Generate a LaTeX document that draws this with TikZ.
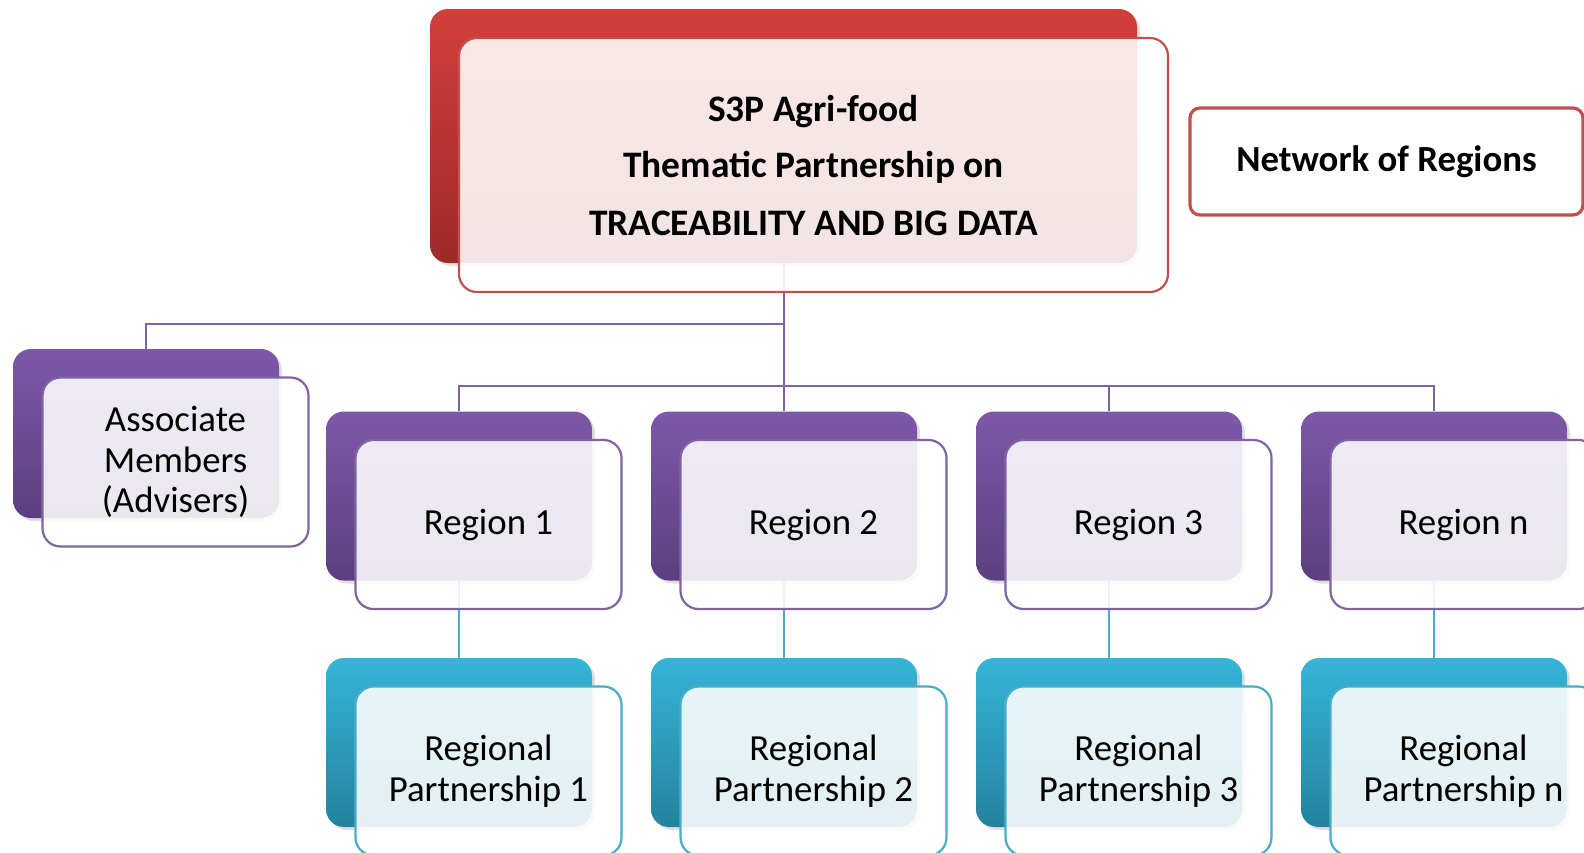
\documentclass[tikz,border=0pt]{standalone}
\usepackage{fontspec}
\setmainfont{Carlito}
\usetikzlibrary{backgrounds,shadows}
\definecolor{redTop}{HTML}{D33F3B}
\definecolor{redBot}{HTML}{9E2A29}
\definecolor{redLine}{HTML}{C0504D}
\definecolor{purpTop}{HTML}{7E58A8}
\definecolor{purpBot}{HTML}{5C3F80}
\definecolor{purpLine}{HTML}{8064A2}
\definecolor{tealTop}{HTML}{36B4D7}
\definecolor{tealBot}{HTML}{23839E}
\definecolor{tealLine}{HTML}{4BACC6}

\begin{document}
\begin{tikzpicture}[x=0.5pt, y=-0.5pt,
			font=\fontsize{18.4}{20.2}\selectfont,
			backbox/.style  = {rectangle, rounded corners=9pt, minimum width=133pt, minimum height=84.5pt, drop shadow={shadow xshift=1.5pt, shadow yshift=-1.5pt, opacity=0.25}},
			frontbox/.style = {rectangle, rounded corners=9pt, minimum width=133pt, minimum height=84.5pt, fill=white, fill opacity=0.88, text opacity=1, line width=1.1pt, align=center},
			purple_b/.style = {backbox, top color=purpTop, bottom color=purpBot},
			teal_b/.style   = {backbox, top color=tealTop, bottom color=tealBot},
			purple_f/.style = {frontbox, draw=purpLine},
			teal_f/.style   = {frontbox, draw=tealLine},
			purple_l/.style = {purpLine, line width=1.3pt},
			teal_l/.style   = {tealLine, line width=1.3pt},]
			
			%% TOP BOX
			\node[backbox, top color=redTop, bottom color=redBot, minimum width=353.5pt, minimum height=127pt] (topb) at (783.5,136) {};
			\node[frontbox, draw=redLine, minimum width=354.5pt, minimum height=127pt, font=\bfseries\fontsize{18.7}{28.5}\selectfont] (topf) at ([shift={(30,29)}]topb) {S3P Agri-food\\Thematic Partnership on\\TRACEABILITY AND BIG DATA};
			\node[draw=redLine, line width=1.6pt, rounded corners=5pt, fill=white, minimum width=196.5pt, minimum height=53.5pt, font=\bfseries\fontsize{18.4}{20}\selectfont] (net) at (1386.5,161.5) {Network of Regions};
			
			%% ASSOCIATE MEMBERS
			\node[purple_b] (assb) at (146,433.5) {};
			\node[purple_f] (assf) at ([shift={(29.5,28.5)}]assb) {Associate\\Members\\(Advisers)};
			
			%% REGIONS
			\node[purple_b] (r1b) at (459,496) {};
			\node[purple_b] (r2b) at (784,496) {};
			\node[purple_b] (r3b) at (1109,496) {};
			\node[purple_b] (rnb) at (1434,496) {};
			\node[purple_f] (r1f) at ([shift={(29.5,28.5)}]r1b) {Region 1};
			\node[purple_f] (r2f) at ([shift={(29.5,28.5)}]r2b) {Region 2};
			\node[purple_f] (r3f) at ([shift={(29.5,28.5)}]r3b) {Region 3};
			\node[purple_f] (rnf) at ([shift={(29.5,28.5)}]rnb) {Region n};
			
			%% REGIONAL PARTNERSHIPS
			\node[teal_b] (p1b) at (459,742.5) {};
			\node[teal_b] (p2b) at (784,742.5) {};
			\node[teal_b] (p3b) at (1109,742.5) {};
			\node[teal_b] (pnb) at (1434,742.5) {};
			\node[teal_f] (p1f) at ([shift={(29.5,28.5)}]p1b) {Regional\\Partnership 1};
			\node[teal_f] (p2f) at ([shift={(29.5,28.5)}]p2b) {Regional\\Partnership 2};
			\node[teal_f] (p3f) at ([shift={(29.5,28.5)}]p3b) {Regional\\Partnership 3};
			\node[teal_f] (pnf) at ([shift={(29.5,28.5)}]pnb) {Regional\\Partnership n};
			
			%% CONNECTORS BEHIND THE BOXES
			\begin{scope}[on background layer]
			\coordinate (busA) at (784,324);
			\coordinate (busB) at (784,386);
			\draw[purple_l] (topb.south -| busB) -- (busB);
			\draw[purple_l] (busA) -| (assb.north);
			\draw[purple_l] (r1b.north) |- (busB) -| (rnb.north);
			\draw[purple_l] (r2b.north) -- (r2b.north |- busB);
			\draw[purple_l] (r3b.north) -- (r3b.north |- busB);
			\draw[teal_l] (r1b.south) -- (p1b.north);
			\draw[teal_l] (r2b.south) -- (p2b.north);
			\draw[teal_l] (r3b.south) -- (p3b.north);
			\draw[teal_l] (rnb.south) -- (pnb.north);
			\end{scope}
			
			\pgfresetboundingbox
			\useasboundingbox (0,0) rectangle (1584,852);
\end{tikzpicture}
\end{document}
